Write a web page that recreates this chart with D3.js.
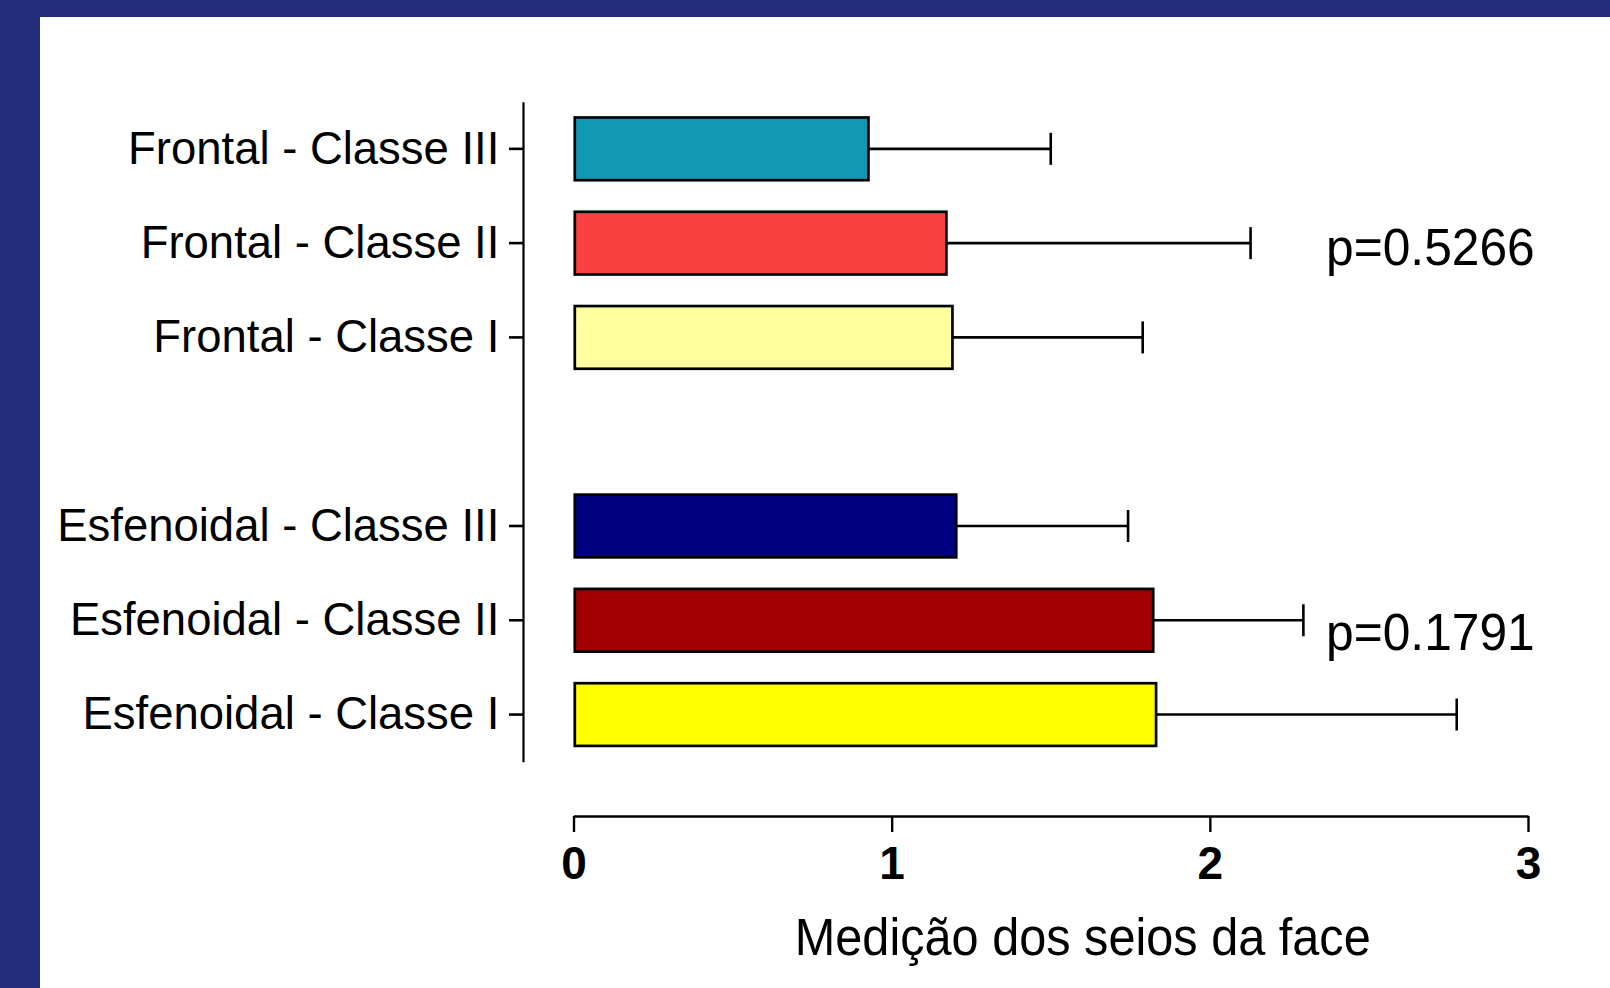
<!DOCTYPE html>
<html>
<head>
<meta charset="utf-8">
<script src="https://cdn.jsdelivr.net/npm/d3@7"></script>
<style>
  html, body { margin: 0; padding: 0; background: #ffffff; }
  svg { display: block; }
  text { font-family: "Liberation Sans", Arial, "DejaVu Sans", sans-serif; fill: #000; }
</style>
</head>
<body>
<svg id="chart" width="1610" height="988"></svg>
<script>
// Group labels, top to bottom; the empty slot separates Frontal from Esfenoidal
const categories = [
  "Frontal - Classe III",
  "Frontal - Classe II",
  "Frontal - Classe I",
  "Esfenoidal - Classe III",
  "Esfenoidal - Classe II",
  "Esfenoidal - Classe I"
];
const GAP = "__gap__";
const slots = [categories[0], categories[1], categories[2], GAP, categories[3], categories[4], categories[5]];

// Mean measurement and standard deviation per group
const means = [0.927, 1.172, 1.191, 1.203, 1.822, 1.831];
const sds   = [0.573, 0.956, 0.598, 0.540, 0.472, 0.945];
const fills = ["#1199B4", "#F84242", "#FFFF9F", "#000080", "#A00000", "#FFFF00"];

const xTicks = [0, 1, 2, 3];
const pValues = [
  { text: "p=0.5266", row: "Frontal - Classe II" },
  { text: "p=0.1791", row: "Esfenoidal - Classe II" }
];
const xTitle = "Medição dos seios da face";

const svg = d3.select("#chart");
const W = 1610, H = 988;

// Slide frame: navy band along the top and the left edge
svg.append("rect").attr("x", 0).attr("y", 0).attr("width", W).attr("height", H).attr("fill", "#ffffff");
svg.append("rect").attr("x", 0).attr("y", 0).attr("width", W).attr("height", 17).attr("fill", "#222D7B");
svg.append("rect").attr("x", 0).attr("y", 0).attr("width", 40).attr("height", H).attr("fill", "#222D7B");

// Scales
const x = d3.scaleLinear().domain([0, 3]).range([573.5, 1528]);
const y = d3.scaleBand().domain(slots).range([101.7, 761.7]).paddingInner(0.335).paddingOuter(0.1675);
const yAxisX = 523;
const xAxisY = 816;

const rows = categories.map((c, i) => ({ cat: c, mean: means[i], sd: sds[i], fill: fills[i] }));

// Bars
svg.append("g").selectAll("rect")
  .data(rows)
  .join("rect")
  .attr("x", x(0) + 1.3)
  .attr("y", d => y(d.cat))
  .attr("width", d => x(d.mean) - x(0) - 1.3)
  .attr("height", y.bandwidth())
  .attr("fill", d => d.fill)
  .attr("stroke", "#000")
  .attr("stroke-width", 2.7);

// Error bars (upper SD only)
const err = svg.append("g").attr("stroke", "#000").attr("stroke-width", 2.6).attr("fill", "none");
err.selectAll("line.whisker")
  .data(rows)
  .join("line")
  .attr("class", "whisker")
  .attr("x1", d => x(d.mean))
  .attr("x2", d => x(d.mean + d.sd))
  .attr("y1", d => y(d.cat) + y.bandwidth() / 2)
  .attr("y2", d => y(d.cat) + y.bandwidth() / 2);
err.selectAll("line.cap")
  .data(rows)
  .join("line")
  .attr("class", "cap")
  .attr("x1", d => x(d.mean + d.sd))
  .attr("x2", d => x(d.mean + d.sd))
  .attr("y1", d => y(d.cat) + y.bandwidth() / 2 - 16)
  .attr("y2", d => y(d.cat) + y.bandwidth() / 2 + 16);

// Category axis
const yAxis = d3.axisLeft(y)
  .tickValues(categories)
  .tickSize(14)
  .tickSizeOuter(0)
  .tickPadding(10);
const gy = svg.append("g").attr("transform", `translate(${yAxisX},0)`).call(yAxis);
gy.select(".domain").attr("stroke", "#000").attr("stroke-width", 2.2);
gy.selectAll(".tick line").attr("stroke", "#000").attr("stroke-width", 2.6);
gy.selectAll(".tick text")
  .attr("font-size", 46)
  .attr("font-family", "\"Liberation Sans\", Arial, sans-serif")
  .attr("fill", "#000")
  .attr("transform", "scale(0.988,1)");

// Value axis
const xAxis = d3.axisBottom(x)
  .tickValues(xTicks)
  .tickFormat(d3.format("d"))
  .tickSize(16)
  .tickSizeOuter(0)
  .tickPadding(14);
const gx = svg.append("g").attr("transform", `translate(0,${xAxisY})`).call(xAxis);
gx.select(".domain").attr("stroke", "#000").attr("stroke-width", 2.4);
gx.selectAll(".tick line").attr("stroke", "#000").attr("stroke-width", 2.4);
gx.selectAll(".tick text")
  .attr("font-size", 46)
  .attr("font-weight", "bold")
  .attr("font-family", "\"Liberation Sans\", Arial, sans-serif")
  .attr("fill", "#000");

// Axis title (slightly condensed lettering)
svg.append("text")
  .attr("transform", `translate(${(x(0) + x(3)) / 2 + 32},955) scale(0.954,1)`)
  .attr("text-anchor", "middle")
  .attr("font-size", 51)
  .text(xTitle);

// p-values beside each group
svg.append("g").selectAll("text")
  .data(pValues)
  .join("text")
  .attr("transform", d => {
    const ty = y(d.row) + y.bandwidth() / 2 + (d.row.startsWith("Frontal") ? 22 : 30);
    return `translate(1326,${ty}) scale(0.975,1)`;
  })
  .attr("font-size", 51)
  .text(d => d.text);
</script>
</body>
</html>
